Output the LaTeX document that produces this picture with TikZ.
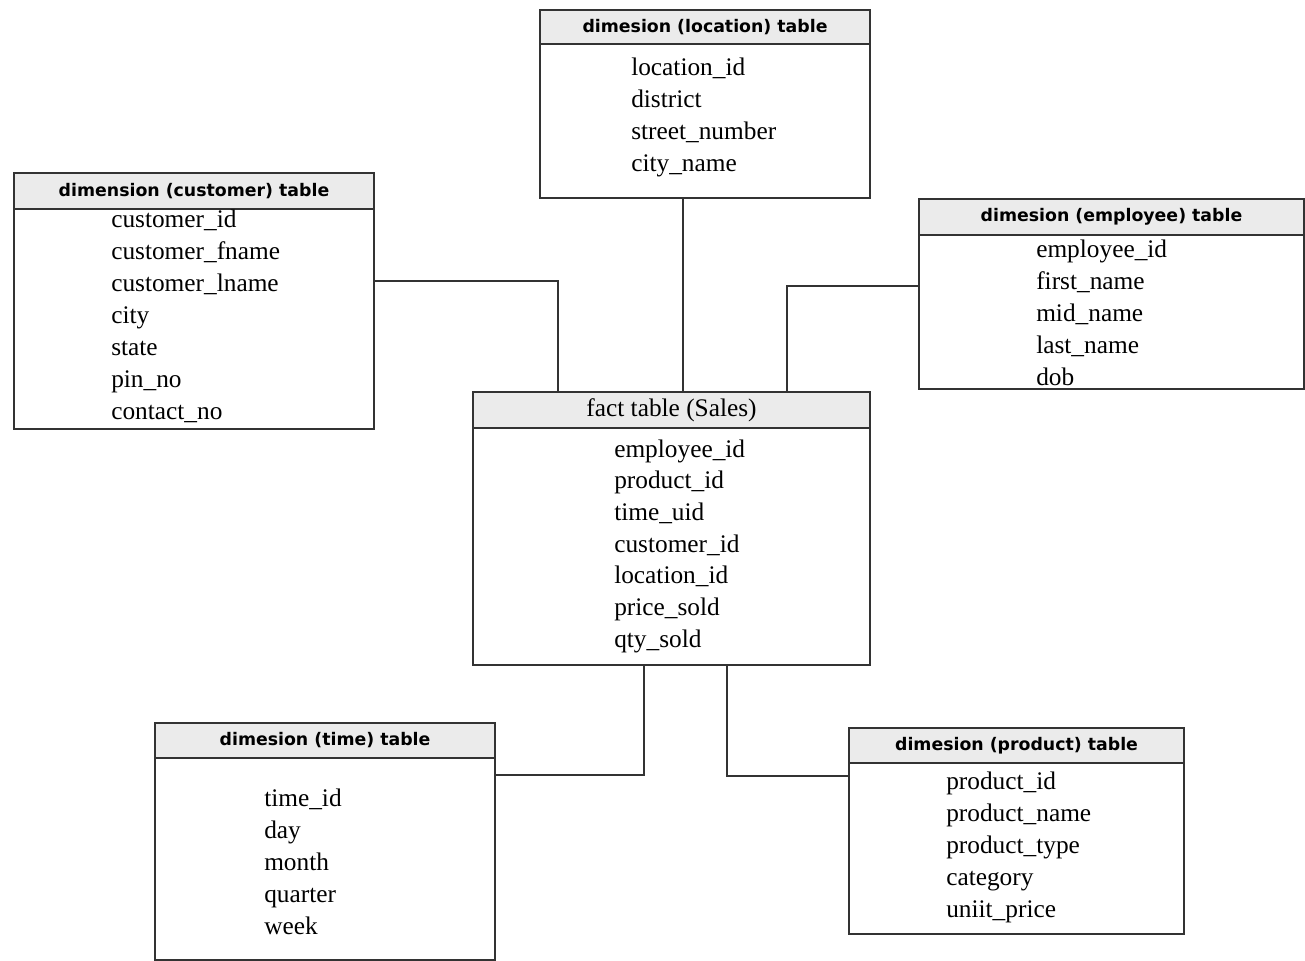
\documentclass[tikz,border=0pt]{standalone}
\usepackage{fontspec}
\setmainfont{Liberation Serif}
\newfontfamily\hdrfont{DejaVu Sans}
\usetikzlibrary{fit}
\definecolor{boxline}{HTML}{333333}
\definecolor{headfill}{HTML}{EBEBEB}
\begin{document}
\begin{tikzpicture}[x=0.75pt,y=-0.75pt,
  tablebox/.style={draw=boxline, line width=1.1pt, fill=white, inner sep=0pt},
  headbox/.style={draw=boxline, line width=1.1pt, fill=headfill, inner sep=0pt},
  headtext/.style={inner sep=0pt, font=\hdrfont\bfseries\fontsize{13pt}{15pt}\selectfont},
  facttext/.style={inner sep=0pt, font=\fontsize{19pt}{22pt}\selectfont},
  field/.style={anchor=west, inner sep=0pt, text height=15pt, text depth=3pt,
    font=\fontsize{19pt}{22pt}\selectfont},
  link/.style={draw=boxline, line width=1.1pt}]
\useasboundingbox (0,0) rectangle (1305,960);

% location dimension
\node[tablebox, fit={(540,10) (870,198)}] (loc) {};
\node[headbox, fit={(540,10) (870,44)}] (loc-h) {};
\node[headtext] (loc-t) at (loc-h.center) {dimesion (location) table};
\foreach \f [count=\i from 0] in {location\_id, district, street\_number, city\_name}
  \node[field] (loc-\i) at (631, 67+32*\i) {\f};

% customer dimension
\node[tablebox, fit={(14,173) (374,429)}] (cust) {};
\node[headbox, fit={(14,173) (374,209)}] (cust-h) {};
\node[headtext] (cust-t) at (cust-h.center) {dimension (customer) table};
\foreach \f [count=\i from 0] in {customer\_id, customer\_fname, customer\_lname, city, state, pin\_no, contact\_no}
  \node[field] (cust-\i) at (111, 219+32*\i) {\f};

% employee dimension
\node[tablebox, fit={(919,199) (1304,389)}] (emp) {};
\node[headbox, fit={(919,199) (1304,235)}] (emp-h) {};
\node[headtext] (emp-t) at (emp-h.center) {dimesion (employee) table};
\foreach \f [count=\i from 0] in {employee\_id, first\_name, mid\_name, last\_name, dob}
  \node[field] (emp-\i) at (1036, 249+32*\i) {\f};

% fact table
\node[tablebox, fit={(473,392) (870,665)}] (fact) {};
\node[headbox, fit={(473,392) (870,428)}] (fact-h) {};
\node[facttext] (fact-t) at (fact-h.center) {fact table (Sales)};
\foreach \f [count=\i from 0] in {employee\_id, product\_id, time\_uid, customer\_id, location\_id, price\_sold, qty\_sold}
  \node[field] (fact-\i) at (614, 449+31.7*\i) {\f};

% time dimension
\node[tablebox, fit={(155,723) (495,960)}] (time) {};
\node[headbox, fit={(155,723) (495,758)}] (time-h) {};
\node[headtext] (time-t) at (time-h.center) {dimesion (time) table};
\foreach \f [count=\i from 0] in {time\_id, day, month, quarter, week}
  \node[field] (time-\i) at (264, 798+32*\i) {\f};

% product dimension
\node[tablebox, fit={(849,728) (1184,934)}] (prod) {};
\node[headbox, fit={(849,728) (1184,763)}] (prod-h) {};
\node[headtext] (prod-t) at (prod-h.center) {dimesion (product) table};
\foreach \f [count=\i from 0] in {product\_id, product\_name, product\_type, category, uniit\_price}
  \node[field] (prod-\i) at (946, 781+32.2*\i) {\f};

% links from the dimensions to the fact table
\draw[link] ([yshift=15pt]cust.east) -| ([xshift=-85.1pt]fact.north);
\draw[link] ([xshift=-16.5pt]loc.south) -- ([xshift=-16.5pt]loc.south |- fact.north);
\draw[link] ([yshift=6pt]emp.west) -| ([xshift=86.6pt]fact.north);
\draw[link] ([xshift=-20.6pt]fact.south) |- ([yshift=49.9pt]time.east);
\draw[link] ([xshift=41.6pt]fact.south) |- ([yshift=41.25pt]prod.west);
\end{tikzpicture}
\end{document}
